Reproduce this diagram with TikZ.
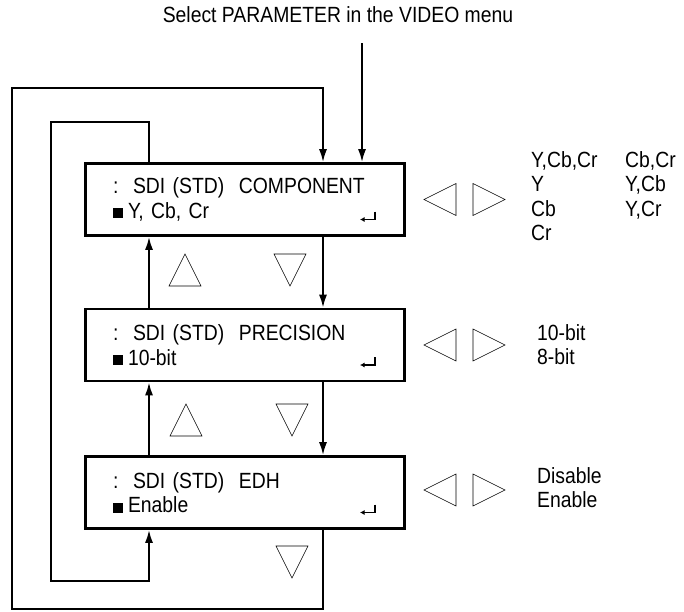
\documentclass[tikz,border=0pt]{standalone}
\usepackage{fontspec}
\setmainfont{Liberation Sans}[FakeStretch=0.88]
\usetikzlibrary{arrows.meta}
\newcommand{\selmark}{\rule{10pt}{10pt}\hspace{5pt}}
\newcommand{\upkey}[1]{\draw[key] (#1) ++(-16,16) -- ++(16,-32) -- ++(16,32) -- cycle;}
\newcommand{\downkey}[1]{\draw[key] (#1) ++(-16,-16) -- ++(16,32) -- ++(16,-32) -- cycle;}
\newcommand{\lrkeys}[1]{%
  \draw[key] (#1) ++(-8.5,-16) -- ++(0,32) -- ++(-32,-16) -- cycle;
  \draw[key] (#1) ++(8.5,-16) -- ++(0,32) -- ++(32,-16) -- cycle;}
\newcommand{\enterkey}[1]{\draw[enter] ([shift={(-31,12)}]#1.east) -- ++(0,8) -- ++(-15,0);}

\begin{document}
\begin{tikzpicture}[x=1pt, y=-1pt, font=\fontsize{22}{24.5}\selectfont,
  menubox/.style={draw, line width=2.6pt, align=left, text width=264pt,
                  inner xsep=27.7pt, inner ysep=0pt, minimum height=72pt},
  link/.style={line width=2pt, -{Latex[length=13pt,width=8pt]}},
  key/.style={line width=0.6pt, line join=miter},
  enter/.style={line width=1.1pt, -{Latex[length=4.5pt,width=5pt]}},
  choices/.style={anchor=north west, inner sep=0pt, align=left}]
  \useasboundingbox (0,0) rectangle (684,611);
  \node (title) at (338,15) {Select PARAMETER in the VIDEO menu};
  \node[menubox] (comp) at (245,199.5) {:\ \ SDI (STD)\ \ COMPONENT\\ \selmark Y, Cb, Cr};
  \node[menubox] (prec) at (245,345)   {:\ \ SDI (STD)\ \ PRECISION\\ \selmark 10-bit};
  \node[menubox] (edh)  at (245,492.5) {:\ \ SDI (STD)\ \ EDH\\ \selmark Enable};
  \enterkey{comp} \enterkey{prec} \enterkey{edh}
  % choices
  \node[choices] (compa) at (531,151) {Y,Cb,Cr\\Y\\Cb\\Cr};
  \node[choices] (compb) at (625,151) {Cb,Cr\\Y,Cb\\Y,Cr};
  \node[choices] (precl) at (537,324) {10-bit\\8-bit};
  \node[choices] (edhl)  at (537,467) {Disable\\Enable};
  % keys
  \lrkeys{464.5,199.5} \lrkeys{464.5,345} \lrkeys{464.5,490}
  \upkey{185,270} \upkey{186,420}
  \downkey{290,270} \downkey{292,420} \downkey{292,562}
  % connectors
  \coordinate (src) at (362,43);
  \coordinate (dn) at (323,0);
  \coordinate (up) at (149,0);
  \draw[link] (src) -- (comp.north -| src);
  \draw[link] (comp.south -| dn) -- (prec.north -| dn);
  \draw[link] (prec.south -| dn) -- (edh.north -| dn);
  \draw[link] (prec.north -| up) -- (comp.south -| up);
  \draw[link] (edh.north -| up) -- (prec.south -| up);
  \draw[link] (edh.south -| dn) -- (323,609) -- (12,609) -- (12,88) -- (323,88) -- (comp.north -| dn);
  \draw[link] (comp.north -| up) -- (149,122) -- (51,122) -- (51,581) -- (149,581) -- (edh.south -| up);
\end{tikzpicture}
\end{document}
